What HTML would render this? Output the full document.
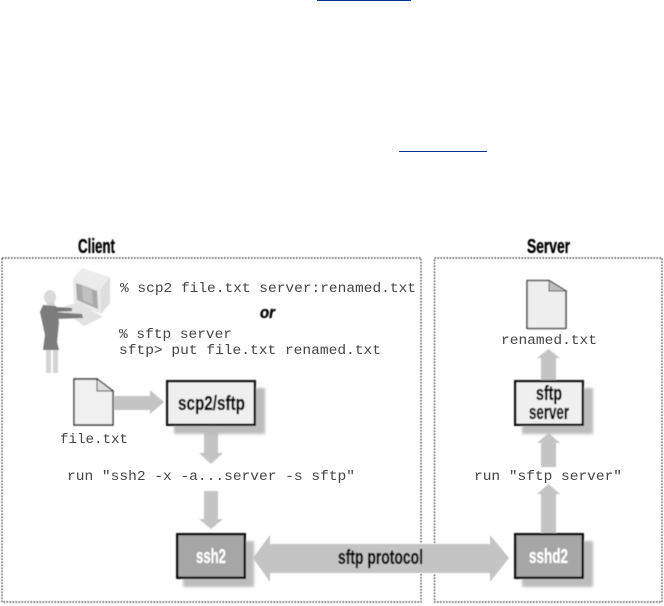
<!DOCTYPE html>
<html>
<head>
<meta charset="utf-8">
<style>
html,body{margin:0;padding:0;background:#fff;width:664px;height:606px;overflow:hidden}
svg{display:block}
.m{font-family:"Liberation Mono",monospace;font-size:13.5px;fill:#444}
.b{font-family:"Liberation Sans",sans-serif;font-weight:bold;fill:#000;stroke:#000;stroke-width:0.35}
.w{font-family:"Liberation Sans",sans-serif;font-weight:bold;fill:#fff;stroke:#fff;stroke-width:0.2}
</style>
</head>
<body>
<svg width="664" height="606" viewBox="0 0 664 606" xmlns="http://www.w3.org/2000/svg">
<defs>
<filter id="s" x="-5%" y="-5%" width="110%" height="110%"><feGaussianBlur stdDeviation="0.4"/></filter>
<filter id="t" x="-5%" y="-20%" width="110%" height="140%"><feGaussianBlur stdDeviation="0.3"/></filter>
<filter id="sh" x="-20%" y="-20%" width="140%" height="140%"><feGaussianBlur stdDeviation="1.2"/></filter>
</defs>
<rect x="317" y="0" width="94" height="1" fill="#003399"/>
<rect x="399" y="151" width="88" height="1" fill="#003399"/>
<g filter="url(#s)">
  <rect x="2" y="258" width="419" height="344" fill="none" stroke="#222" stroke-width="1.2" stroke-dasharray="1.5 1.5"/>
  <rect x="434.5" y="258" width="227.5" height="344" fill="none" stroke="#222" stroke-width="1.2" stroke-dasharray="1.5 1.5"/>

  <!-- arrows -->
  <g fill="#c4c4c4">
    <polygon points="114,396 150,396 150,390 164,402 150,414 150,410 114,410"/>
    <polygon points="204,426 218,426 218,453 223,453 211,464 199,453 204,453"/>
    <polygon points="204,491 218,491 218,519 223,519 211,529 199,519 204,519"/>
    <polygon points="253,558 270,535 270,544 490,544 490,535 509,558 490,582 490,573 270,573 270,582"/>
    <polygon points="541,533 541,494 537,494 548.5,484 560,494 556,494 556,533"/>
    <polygon points="541,467 541,443 537,443 548.5,433 560,443 556,443 556,467"/>
    <polygon points="541,380 541,358 537,358 548.5,349 560,358 556,358 556,380"/>
  </g>

  <!-- shadows -->
  <g fill="#bcbcbc" filter="url(#sh)">
    <rect x="174" y="388" width="91" height="46"/>
    <rect x="183" y="541" width="71" height="46"/>
    <rect x="522" y="541" width="71" height="46"/>
    <rect x="522" y="388" width="71" height="46"/>
  </g>

  <!-- boxes -->
  <rect x="167.200" y="381.200" width="87.600" height="43.600" fill="#efefef" stroke="#111" stroke-width="2.400"/>
  <rect x="515.200" y="381.200" width="67.600" height="43.600" fill="#efefef" stroke="#111" stroke-width="2.400"/>
  <rect x="177.200" y="534.200" width="67.600" height="43.600" fill="#a6a6a6" stroke="#111" stroke-width="2.400"/>
  <rect x="515.200" y="534.200" width="67.600" height="43.600" fill="#a6a6a6" stroke="#111" stroke-width="2.400"/>

  <!-- files -->
  <path d="M74 379 H97 L113 391 V425 H74 Z" fill="#f0f0f0" stroke="#333" stroke-width="1.400"/>
  <path d="M97 379 V391 H113 Z" fill="#ddd" stroke="#333" stroke-width="1"/>
  <path d="M527 280.500 H549 L566 291 V328.500 H527 Z" fill="#eeeeee" stroke="#555" stroke-width="1.600" stroke-linejoin="round"/>
  <path d="M549 280.500 V291 H566 Z" fill="#bdbdbd" stroke="#555" stroke-width="1"/>

  <!-- computer -->
  <polygon points="73,279 82,268 110,277 100,290" fill="#ececec"/>
  <polygon points="73,279 100,290 101,314 74,302" fill="#e8e8e8"/>
  <polygon points="100,290 110,277 110,303 101,314" fill="#dedede"/>
  <polygon points="76,283 97,291 98,309 77,300" fill="#a8a8a8"/>
  <polygon points="82,286 92,290 93,305 83,300" fill="#c0c0c0"/>
  <polygon points="60,308 78,302 103,317 84,326" fill="#e2e2e2"/>
  <!-- person -->
  <ellipse cx="50" cy="297" rx="6" ry="7" fill="#dadada"/>
  <polygon points="47,302 54,302 55,307 47,307" fill="#d4d4d4"/>
  <polygon points="43,305 56,306 59,322 57,342 59,350 43,350 45,335 40,312" fill="#7c7c7c"/>
  <polygon points="54,307 72,308 72,311 55,312" fill="#777"/>
  <polygon points="54,312 82,314 83,318 55,319" fill="#7c7c7c"/>
  <rect x="46" y="350" width="5" height="23" fill="#d4d4d4"/>
  <rect x="53" y="350" width="5" height="23" fill="#d4d4d4"/>

  <!-- labels -->
  <text class="b" x="78" y="253" font-size="20" textLength="37" lengthAdjust="spacingAndGlyphs">Client</text>
  <text class="b" x="527" y="253" font-size="20" textLength="43" lengthAdjust="spacingAndGlyphs">Server</text>
  <text class="b" x="260" y="318" font-size="17" font-style="italic" textLength="15" lengthAdjust="spacingAndGlyphs">or</text>
  <text class="b" x="178" y="410" font-size="20" textLength="67" lengthAdjust="spacingAndGlyphs">scp2/sftp</text>
  <text class="b" x="536" y="400" font-size="20" textLength="26" lengthAdjust="spacingAndGlyphs">sftp</text>
  <text class="b" x="529" y="419" font-size="20" textLength="40" lengthAdjust="spacingAndGlyphs">server</text>
  <text class="w" x="196" y="563" font-size="20" textLength="30" lengthAdjust="spacingAndGlyphs">ssh2</text>
  <text class="w" x="529" y="563" font-size="20" textLength="39" lengthAdjust="spacingAndGlyphs">sshd2</text>
  <text class="b" x="338" y="564" font-size="20" textLength="85" lengthAdjust="spacingAndGlyphs">sftp protocol</text>
</g>
<g filter="url(#t)">
  <text class="m" x="120" y="292" textLength="296" lengthAdjust="spacingAndGlyphs">% scp2 file.txt server:renamed.txt</text>
  <text class="m" x="119" y="338" textLength="113" lengthAdjust="spacingAndGlyphs">% sftp server</text>
  <text class="m" x="119" y="354" textLength="262" lengthAdjust="spacingAndGlyphs">sftp&gt; put file.txt renamed.txt</text>
  <text class="m" x="60" y="443" textLength="68" lengthAdjust="spacingAndGlyphs">file.txt</text>
  <text class="m" x="67" y="480" textLength="288" lengthAdjust="spacingAndGlyphs">run "ssh2 -x -a...server -s sftp"</text>
  <text class="m" x="474" y="480" textLength="148" lengthAdjust="spacingAndGlyphs">run "sftp server"</text>
  <text class="m" x="501" y="344" textLength="96" lengthAdjust="spacingAndGlyphs">renamed.txt</text>
</g>
</svg>
</body>
</html>
